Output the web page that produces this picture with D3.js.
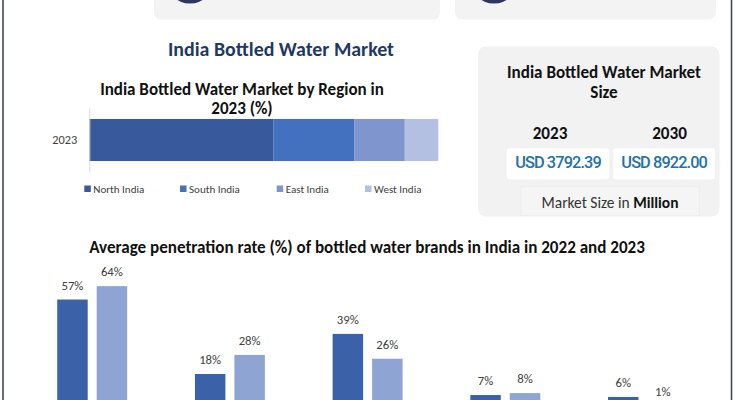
<!DOCTYPE html>
<html>
<head>
<meta charset="utf-8">
<script src="https://cdn.jsdelivr.net/npm/d3@7"></script>
<style>
  html, body { margin: 0; padding: 0; background: #ffffff; }
  svg { display: block; }
</style>
</head>
<body>
<div id="chart"></div>
<script>
// ---------------- DATA ----------------
const mainTitle = "India Bottled Water Market";
const regionTitle = ["India Bottled Water Market by Region in", "2023 (%)"];
const regionYear = ["2023"];
const regions = ["North India", "South India", "East India", "West India"];
const regionShares = [52.7, 23.2, 14.5, 9.6];

const sizeTitle = ["India Bottled Water Market", "Size"];
const sizeYears = ["2023", "2030"];
const sizeValues = ["USD 3792.39", "USD 8922.00"];
const sizeUnit = "Million";

const penTitle = "Average penetration rate (%) of bottled water brands in India in 2022 and 2023";
const brands = ["Brand 1", "Brand 2", "Brand 3", "Brand 4", "Brand 5"];
const seriesYears = ["2022", "2023"];
const pen2022 = [57, 18, 39, 7, 6];
const pen2023 = [64, 28, 26, 8, 1];

// ---------------- STYLE ----------------
const W = 735, H = 400;
const FONT = "Carlito, Lato, 'Open Sans', sans-serif";
const regionColors = ["#38599b", "#4470c0", "#7f95cd", "#b3c0e2"];
const seriesColors = ["#3b61a9", "#8ea4d3"];
const textGrey = "#404040";

const svg = d3.select("#chart").append("svg")
  .attr("width", W).attr("height", H)
  .style("font-family", FONT);

// scale a text's font size so that it spans the target width; returns the size used
function fit(sel, target) {
  const node = sel.node();
  const w = node.getComputedTextLength();
  const fs = parseFloat(sel.attr("font-size"));
  const nfs = w > 0 ? fs * target / w : fs;
  sel.attr("font-size", nfs.toFixed(2));
  return nfs;
}

// outer frame
svg.append("rect").attr("x", 3).attr("y", -10).attr("width", 728.5).attr("height", H + 20)
  .attr("fill", "none").attr("stroke", "#3d4958").attr("stroke-width", 1.6);

// top cut-off cards
[[154, 286, 190], [455, 261, 494]].forEach(([x, w, cx]) => {
  svg.append("rect").attr("x", x).attr("y", -30).attr("width", w).attr("height", 49.5)
    .attr("rx", 7).attr("fill", "#f3f3f3");
  svg.append("circle").attr("cx", cx).attr("cy", -21).attr("r", 24.5).attr("fill", "#2b3a5c");
});

// main title
fit(svg.append("text").attr("x", 281).attr("y", 56).attr("text-anchor", "middle")
  .attr("font-size", 18).attr("font-weight", 700).attr("fill", "#1f3864").text(mainTitle), 226);

// ---------------- REGION STACKED BAR ----------------
const rtSize = fit(svg.append("text").attr("x", 242).attr("y", 95).attr("text-anchor", "middle")
  .attr("font-size", 16).attr("font-weight", 700).attr("fill", "#111").text(regionTitle[0]), 284);
svg.append("text").attr("x", 242).attr("y", 114).attr("text-anchor", "middle")
  .attr("font-size", rtSize.toFixed(2)).attr("font-weight", 700).attr("fill", "#111").text(regionTitle[1]);

const rx = d3.scaleLinear().domain([0, d3.sum(regionShares)]).range([89.3, 438.3]);
const ry = d3.scaleBand().domain(regionYear).range([108, 172]).paddingInner(0).paddingOuter(0.26);
const stackData = [Object.fromEntries(regions.map((r, i) => [r, regionShares[i]]))];
const stacked = d3.stack().keys(regions)(stackData);

svg.append("g").selectAll("rect").data(stacked).join("rect")
  .attr("x", d => rx(d[0][0]))
  .attr("width", d => rx(d[0][1]) - rx(d[0][0]))
  .attr("y", ry(regionYear[0]))
  .attr("height", ry.bandwidth())
  .attr("fill", (d, i) => regionColors[i]);

const ryAxis = svg.append("g").attr("transform", "translate(89.3,0)")
  .call(d3.axisLeft(ry).tickSize(0).tickPadding(12));
ryAxis.attr("font-family", null).attr("font-size", null);
ryAxis.select(".domain").attr("stroke", "#d9d9d9");
ryAxis.selectAll("text").attr("font-size", 12).attr("fill", textGrey).style("font-family", FONT)
  .each(function () { fit(d3.select(this), 25); });

// legend
const legX = [84.3, 180, 276.7, 365];
const leg = svg.append("g").selectAll("g").data(regions).join("g")
  .attr("transform", (d, i) => `translate(${legX[i]},0)`);
leg.append("rect").attr("x", 0).attr("y", 185.5).attr("width", 6.5).attr("height", 6.5)
  .attr("fill", (d, i) => regionColors[i]);
const legTexts = leg.append("text").attr("x", 9).attr("y", 193).attr("font-size", 11).attr("fill", textGrey)
  .text(d => d);
const legSize = fit(d3.select(legTexts.nodes()[0]), 51);
legTexts.attr("font-size", legSize.toFixed(2));

// ---------------- MARKET SIZE CARD ----------------
svg.append("rect").attr("x", 478).attr("y", 46.5).attr("width", 241.5).attr("height", 170)
  .attr("rx", 8).attr("fill", "#f2f2f2");
const stSize = fit(svg.append("text").attr("x", 604).attr("y", 77.5).attr("text-anchor", "middle")
  .attr("font-size", 15).attr("font-weight", 700).attr("fill", "#111").text(sizeTitle[0]), 194);
svg.append("text").attr("x", 604).attr("y", 98).attr("text-anchor", "middle")
  .attr("font-size", stSize.toFixed(2)).attr("font-weight", 700).attr("fill", "#111").text(sizeTitle[1]);

const yearX = [550, 669.5];
const boxX = [[506.7, 102.6], [613.3, 101.7]];
sizeYears.forEach((y, i) => {
  fit(svg.append("text").attr("x", yearX[i]).attr("y", 138.5).attr("text-anchor", "middle")
    .attr("font-size", 16).attr("font-weight", 700).attr("fill", "#111").text(y), 34.7);
  svg.append("rect").attr("x", boxX[i][0]).attr("y", 148.3).attr("width", boxX[i][1]).attr("height", 31)
    .attr("rx", 3).attr("fill", "#ffffff");
  fit(svg.append("text").attr("x", boxX[i][0] + boxX[i][1] / 2).attr("y", 168)
    .attr("text-anchor", "middle").attr("font-size", 14).attr("letter-spacing", -0.9)
    .attr("font-weight", 500)
    .style("font-family", "Roboto, 'Liberation Sans', Arial, sans-serif")
    .attr("fill", "#2570ad").text(sizeValues[i]), 84);
});

svg.append("rect").attr("x", 521).attr("y", 186.7).attr("width", 178.3).attr("height", 29)
  .attr("fill", "#f5f5f5").attr("stroke", "#ebebeb").attr("stroke-width", 0.8);
const unitText = svg.append("text").attr("x", 610).attr("y", 207.5).attr("text-anchor", "middle")
  .attr("font-size", 13).attr("fill", "#333");
unitText.append("tspan").text("Market Size in ");
unitText.append("tspan").attr("font-weight", 700).attr("fill", "#111").text(sizeUnit);
fit(unitText, 137);

// ---------------- PENETRATION GROUPED BARS ----------------
fit(svg.append("text").attr("x", 367).attr("y", 253).attr("text-anchor", "middle")
  .attr("font-size", 16).attr("font-weight", 700).attr("fill", "#111").text(penTitle), 556);

const x0 = d3.scaleBand().domain(brands).range([23.35, 711.85]).paddingInner(0.492).paddingOuter(0.246);
const x1 = d3.scaleBand().domain(seriesYears).range([0, x0.bandwidth()]).paddingInner(0.228).paddingOuter(0);
const y = d3.scaleLinear().domain([0, 70]).range([408.4, 408.4 - 70 * 1.91]);

const rows = brands.map((b, i) => ({ brand: b, values: [pen2022[i], pen2023[i]] }));
const groups = svg.append("g").selectAll("g").data(rows).join("g")
  .attr("transform", d => `translate(${x0(d.brand)},0)`);

groups.selectAll("rect").data(d => d.values.map((v, j) => ({ key: seriesYears[j], v, j }))).join("rect")
  .attr("x", d => x1(d.key))
  .attr("width", x1.bandwidth())
  .attr("y", d => y(d.v))
  .attr("height", d => y(0) - y(d.v))
  .attr("fill", d => seriesColors[d.j]);

const labels = groups.selectAll("text.lbl").data(d => d.values.map((v, j) => ({ key: seriesYears[j], v, j }))).join("text")
  .attr("class", "lbl")
  .attr("x", d => x1(d.key) + x1.bandwidth() / 2)
  .attr("y", d => y(d.v) - 10)
  .attr("text-anchor", "middle")
  .attr("font-size", 12)
  .attr("fill", textGrey)
  .text(d => d.v + "%");
const lblSize = fit(d3.select(labels.nodes()[0]), 22);
labels.attr("font-size", lblSize.toFixed(2));

// category baseline (sits below the visible area, as in the cropped original)
svg.append("g").attr("transform", `translate(0,${y(0)})`)
  .call(d3.axisBottom(x0).tickSize(0).tickFormat(() => ""))
  .call(g => g.select(".domain").attr("stroke", "#d9d9d9"));
</script>
</body>
</html>
